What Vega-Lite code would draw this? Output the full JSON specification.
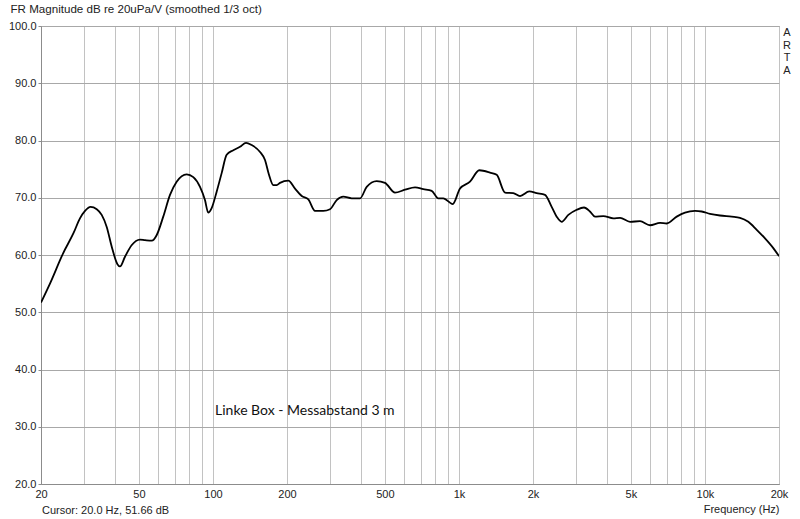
{
  "$schema": "https://vega.github.io/schema/vega-lite/v6.json",
  "width": 738,
  "height": 458,
  "autosize": {"type": "none"},
  "padding": {"left": 41, "top": 26, "right": 21, "bottom": 35},
  "background": "white",
  "config": {
    "view": {"stroke": "#8c8c8c", "strokeWidth": 1},
    "font": "Liberation Sans"
  },
  "title": {
    "text": "FR Magnitude dB re 20uPa/V (smoothed 1/3 oct)",
    "anchor": "start",
    "fontSize": 11.6,
    "fontWeight": "normal",
    "color": "#222222",
    "offset": 4,
    "dx": 2
  },
  "layer": [
    {
      "data": {
        "values": [
          {"freq": 20, "db": 51.7},
          {"freq": 21.8, "db": 55.1},
          {"freq": 24.6, "db": 60.3},
          {"freq": 27.1, "db": 63.8},
          {"freq": 28.8, "db": 66.4},
          {"freq": 30.2, "db": 67.7},
          {"freq": 31.8, "db": 68.4},
          {"freq": 33.7, "db": 68.0},
          {"freq": 35.3, "db": 67.0},
          {"freq": 37.0, "db": 64.9},
          {"freq": 38.8, "db": 61.4},
          {"freq": 40.9, "db": 58.4},
          {"freq": 41.9, "db": 58.0},
          {"freq": 43.9, "db": 59.7},
          {"freq": 46.7, "db": 61.7},
          {"freq": 50.5, "db": 62.7},
          {"freq": 52.9, "db": 62.6},
          {"freq": 56.4, "db": 62.5},
          {"freq": 59.1, "db": 63.5},
          {"freq": 62.8, "db": 66.7},
          {"freq": 66.9, "db": 70.5},
          {"freq": 71.2, "db": 72.8},
          {"freq": 78.2, "db": 74.1},
          {"freq": 83.2, "db": 73.6},
          {"freq": 88.6, "db": 71.9},
          {"freq": 92.8, "db": 69.6},
          {"freq": 95.7, "db": 67.4},
          {"freq": 98.8, "db": 68.2},
          {"freq": 103.6, "db": 71.1},
          {"freq": 108.5, "db": 74.3},
          {"freq": 113.7, "db": 77.5},
          {"freq": 121, "db": 78.3},
          {"freq": 128.8, "db": 78.9},
          {"freq": 136.3, "db": 79.6},
          {"freq": 143.7, "db": 79.2},
          {"freq": 155.4, "db": 78.0},
          {"freq": 162.8, "db": 76.6},
          {"freq": 168.5, "db": 74.2},
          {"freq": 176, "db": 72.2},
          {"freq": 181.6, "db": 72.2},
          {"freq": 187.3, "db": 72.6},
          {"freq": 202.4, "db": 73.0},
          {"freq": 215.6, "db": 71.6},
          {"freq": 229.6, "db": 70.3},
          {"freq": 244.2, "db": 69.7},
          {"freq": 259.9, "db": 67.7},
          {"freq": 280.9, "db": 67.7},
          {"freq": 299.1, "db": 68.0},
          {"freq": 318.4, "db": 69.6},
          {"freq": 338.7, "db": 70.2},
          {"freq": 366.4, "db": 69.9},
          {"freq": 396.2, "db": 69.9},
          {"freq": 421.7, "db": 71.9},
          {"freq": 463, "db": 72.9},
          {"freq": 500.4, "db": 72.6},
          {"freq": 549.6, "db": 70.9},
          {"freq": 603.6, "db": 71.4},
          {"freq": 662.9, "db": 71.8},
          {"freq": 716.4, "db": 71.5},
          {"freq": 774.8, "db": 71.2},
          {"freq": 824.1, "db": 69.9},
          {"freq": 863.8, "db": 69.9},
          {"freq": 943.4, "db": 68.9},
          {"freq": 1010, "db": 71.6},
          {"freq": 1109, "db": 72.8},
          {"freq": 1210, "db": 74.8},
          {"freq": 1337, "db": 74.4},
          {"freq": 1424, "db": 74.0},
          {"freq": 1539, "db": 70.9},
          {"freq": 1663, "db": 70.8},
          {"freq": 1771, "db": 70.3},
          {"freq": 1932, "db": 71.1},
          {"freq": 2070, "db": 70.8},
          {"freq": 2238, "db": 70.5},
          {"freq": 2382, "db": 68.4},
          {"freq": 2496, "db": 66.7},
          {"freq": 2616, "db": 65.8},
          {"freq": 2784, "db": 67.0},
          {"freq": 3011, "db": 67.9},
          {"freq": 3224, "db": 68.3},
          {"freq": 3409, "db": 67.6},
          {"freq": 3573, "db": 66.7},
          {"freq": 3862, "db": 66.8},
          {"freq": 4242, "db": 66.4},
          {"freq": 4518, "db": 66.5},
          {"freq": 4961, "db": 65.8},
          {"freq": 5445, "db": 65.9},
          {"freq": 5980, "db": 65.2},
          {"freq": 6567, "db": 65.6},
          {"freq": 6991, "db": 65.5},
          {"freq": 7677, "db": 66.7},
          {"freq": 8298, "db": 67.4},
          {"freq": 9111, "db": 67.7},
          {"freq": 9702, "db": 67.6},
          {"freq": 10485, "db": 67.2},
          {"freq": 11512, "db": 66.9},
          {"freq": 12846, "db": 66.7},
          {"freq": 13883, "db": 66.5},
          {"freq": 15008, "db": 65.8},
          {"freq": 16236, "db": 64.4},
          {"freq": 17546, "db": 62.9},
          {"freq": 18961, "db": 61.2},
          {"freq": 20000, "db": 59.8}
        ]
      },
      "mark": {"type": "line", "color": "#000000", "strokeWidth": 1.8, "interpolate": "monotone", "clip": true},
      "encoding": {
        "x": {
          "field": "freq",
          "type": "quantitative",
          "scale": {"type": "log", "domain": [20, 20000], "nice": false},
          "axis": {
            "values": [20, 30, 40, 50, 60, 70, 80, 90, 100, 200, 300, 400, 500, 600, 700, 800, 900, 1000, 2000, 3000, 4000, 5000, 6000, 7000, 8000, 9000, 10000, 20000],
            "labelExpr": "indexof([20,50,100,200,500,1000,2000,5000,10000,20000], datum.value) >= 0 ? (datum.value >= 1000 ? (datum.value / 1000) + 'k' : datum.value + '') : ''",
            "grid": true,
            "gridColor": "#c2c2c2",
            "gridWidth": 1,
            "ticks": false,
            "domain": true,
            "domainColor": "#8c8c8c",
            "labelFontSize": 11,
            "labelColor": "#222222",
            "labelPadding": 4,
            "labelOverlap": false,
            "labelFlush": false,
            "title": "Frequency (Hz)",
            "titleAnchor": "end",
            "titleAlign": "right",
            "titleFontWeight": "normal",
            "titleFontSize": 11,
            "titleColor": "#222222",
            "titlePadding": 4
          }
        },
        "y": {
          "field": "db",
          "type": "quantitative",
          "scale": {"domain": [20, 100], "nice": false},
          "axis": {
            "values": [20, 30, 40, 50, 60, 70, 80, 90, 100],
            "format": ".1f",
            "grid": true,
            "gridColor": "#a8a8a8",
            "tickSize": 3,
            "tickColor": "#8c8c8c",
            "domainColor": "#8c8c8c",
            "labelFontSize": 11,
            "labelColor": "#222222",
            "labelPadding": 2,
            "title": null
          }
        }
      }
    },
    {
      "data": {"values": [{"label": "Linke Box - Messabstand 3 m", "freq": 102, "db": 32.7}]},
      "mark": {"type": "text", "align": "left", "baseline": "middle", "font": "Lato", "fontSize": 14, "color": "#111111"},
      "encoding": {
        "x": {"field": "freq", "type": "quantitative"},
        "y": {"field": "db", "type": "quantitative"},
        "text": {"field": "label"}
      }
    },
    {
      "data": {"values": [{"label": "Cursor: 20.0 Hz, 51.66 dB", "freq": 20, "db": 20}]},
      "mark": {"type": "text", "align": "left", "baseline": "middle", "dx": 1, "dy": 27, "fontSize": 11, "color": "#222222"},
      "encoding": {
        "x": {"field": "freq", "type": "quantitative"},
        "y": {"field": "db", "type": "quantitative"},
        "text": {"field": "label"}
      }
    },
    {
      "data": {"values": [{"label": "ARTA", "freq": 20000, "db": 100}]},
      "mark": {"type": "text", "align": "center", "baseline": "top", "dx": 8, "dy": 1, "fontSize": 11, "lineHeight": 12.5, "color": "#222222", "text": ["A", "R", "T", "A"]},
      "encoding": {
        "x": {"field": "freq", "type": "quantitative"},
        "y": {"field": "db", "type": "quantitative"}
      }
    }
  ]
}
